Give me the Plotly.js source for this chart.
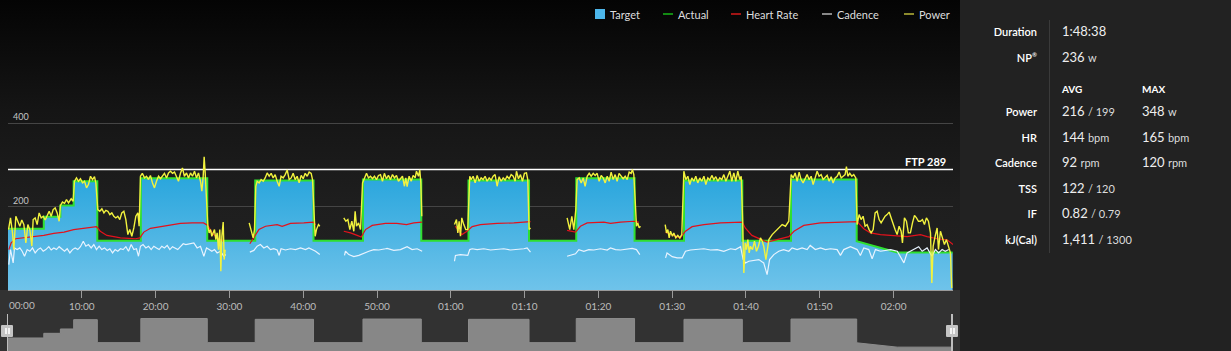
<!DOCTYPE html>
<html>
<head>
<meta charset="utf-8">
<script src="https://cdn.plot.ly/plotly-3.0.1.min.js"></script>
<style>
  html, body { margin:0; padding:0; background:#222; }
  body { width:1231px; height:351px; position:relative; overflow:hidden; font-family: Lato, "Open Sans", sans-serif; }
  #bgTop { position:absolute; left:0; top:0; width:960px; height:290px;
           background: linear-gradient(to bottom, #040404 0px, #151515 110px, #1e1e1e 200px, #222 290px); }
  #bgBottom { position:absolute; left:0; top:290px; width:960px; height:61px; background:#323232; }
  #chart { position:absolute; left:0; top:0; width:960px; height:351px; }
  .leg { position:absolute; top:14px; transform:translateY(-50%); font-size:11px; color:#ddd; white-space:nowrap; }
  .sw { position:absolute; }
  #panel { position:absolute; left:960px; top:0; width:271px; height:351px; background:#222; }
  #divider { position:absolute; left:89px; top:20px; width:1px; height:233px; background:#3a3a3a; }
  .lab { position:absolute; left:0; width:77px; text-align:right; font-size:11px; font-weight:600; color:#fff; transform:translateY(-50%); white-space:nowrap; }
  .val { position:absolute; font-size:13px; color:#eee; transform:translateY(-50%); white-space:nowrap; }
  .val small { font-size:11px; color:#ddd; }
  .hdr { position:absolute; font-size:10px; font-weight:bold; color:#fff; transform:translateY(-50%); }
  .hline { position:absolute; background:#bdbdbd; }
  .hbox { position:absolute; width:12px; height:12px; background:#c4c4c4; border-radius:1px; }
  .hbar { position:absolute; top:3px; width:1.5px; height:6px; background:#f4f4f4; }
</style>
</head>
<body>
<div id="bgTop"></div>
<div id="bgBottom"></div>
<div id="chart"></div>

<!-- legend -->
<div class="sw" style="left:595px;top:9px;width:10px;height:10px;background:#4db6ea;"></div>
<div class="leg" style="left:610px;">Target</div>
<div class="sw" style="left:663px;top:13px;width:10px;height:2px;background:#128a12;"></div>
<div class="leg" style="left:678px;">Actual</div>
<div class="sw" style="left:731px;top:13px;width:10px;height:2px;background:#a01414;"></div>
<div class="leg" style="left:746px;">Heart Rate</div>
<div class="sw" style="left:822px;top:13px;width:10px;height:2px;background:#888;"></div>
<div class="leg" style="left:837px;">Cadence</div>
<div class="sw" style="left:904px;top:13px;width:10px;height:2px;background:#8c8a2c;"></div>
<div class="leg" style="left:919px;">Power</div>

<!-- range handles -->
<div class="hline" style="left:6.5px;top:314px;width:1.5px;height:37px;"></div>
<div class="hbox" style="left:1px;top:325px;"><div class="hbar" style="left:4px;"></div><div class="hbar" style="left:7px;"></div></div>
<div class="hline" style="left:951px;top:314px;width:1.5px;height:37px;"></div>
<div class="hbox" style="left:946px;top:325px;"><div class="hbar" style="left:4px;"></div><div class="hbar" style="left:7px;"></div></div>

<!-- summary panel -->
<div id="panel">
  <div id="divider"></div>
  <div class="lab" style="top:31px;">Duration</div>
  <div class="val" style="left:102px;top:31px;">1:48:38</div>
  <div class="lab" style="top:57px;">NP<sup style="font-size:6px;">®</sup></div>
  <div class="val" style="left:102px;top:57px;">236 <small>w</small></div>
  <div class="hdr" style="left:102px;top:89px;">AVG</div>
  <div class="hdr" style="left:182px;top:89px;">MAX</div>
  <div class="lab" style="top:111px;">Power</div>
  <div class="val" style="left:102px;top:111px;">216 <small>/ 199</small></div>
  <div class="val" style="left:182px;top:111px;">348 <small>w</small></div>
  <div class="lab" style="top:137px;">HR</div>
  <div class="val" style="left:102px;top:137px;">144 <small>bpm</small></div>
  <div class="val" style="left:182px;top:137px;">165 <small>bpm</small></div>
  <div class="lab" style="top:162px;">Cadence</div>
  <div class="val" style="left:102px;top:162px;">92 <small>rpm</small></div>
  <div class="val" style="left:182px;top:162px;">120 <small>rpm</small></div>
  <div class="lab" style="top:188px;">TSS</div>
  <div class="val" style="left:102px;top:188px;">122 <small>/ 120</small></div>
  <div class="lab" style="top:213px;">IF</div>
  <div class="val" style="left:102px;top:213px;">0.82 <small>/ 0.79</small></div>
  <div class="lab" style="top:239px;">kJ(Cal)</div>
  <div class="val" style="left:102px;top:239px;">1,411 <small>/ 1300</small></div>
</div>

<script>
// ---------- data (time in minutes, values in W / bpm / rpm) ----------
const ftp = 289;

const targetTime = [0,4.85,4.85,7.1,7.1,8.9,8.9,12.1,12.1,18.0,18.0,27.0,27.0,33.5,33.5,41.4,41.4,48.1,48.1,56.0,56.0,62.4,62.4,70.6,70.6,77.0,77.0,84.9,84.9,91.6,91.6,99.5,99.5,106.1,106.1,115.0,115.0,120.5,128.0];
const targetWatts = [147,147,176,176,203,203,261,261,118,118,268,268,118,118,263,263,118,118,265,265,118,118,263,263,118,118,268,268,118,118,263,263,118,118,265,265,117,90,90];

const power = [
[0.07,145],[0.34,173],[0.61,137],[0.79,97],[1.06,177],[1.33,165],[1.6,153],[1.87,168],[2.15,157],[2.42,113],[2.69,157],[2.96,145],[3.23,105],[3.41,169],[3.68,173],[3.95,157],[4.22,185],[4.5,173],[4.77,177],[5.04,168],[5.3,177],[5.58,189],[5.85,177],[6.12,193],[6.39,197],[6.66,185],[6.93,165],[7.11,203],[7.38,211],[7.66,208],[7.93,217],[8.2,209],[8.56,219],[8.83,213],[9.01,261],[9.28,269],[9.55,261],[9.82,267],[10.1,257],[10.37,261],[10.64,245],[10.9,253],[11.18,273],[11.45,265],[11.72,272],[11.9,257],[12.17,193],[12.44,189],[12.72,195],[13.0,185],[13.26,191],[13.53,189],[13.8,181],[14.07,185],[14.34,177],[14.61,173],[14.88,177],[15.15,169],[15.42,185],[15.7,189],[15.97,169],[16.24,133],[16.5,145],[16.78,129],[17.05,149],[17.32,177],[17.6,185],[17.77,153],[17.95,273],[18.2,280],[18.5,269],[18.77,273],[19.04,265],[19.3,275],[19.58,257],[19.85,245],[20.12,261],[20.4,273],[20.66,267],[20.93,275],[21.2,280],[21.48,269],[21.75,281],[22.02,285],[22.29,280],[22.56,283],[22.83,273],[23.1,261],[23.37,280],[23.64,293],[23.9,273],[24.19,281],[24.46,269],[24.73,281],[25.0,273],[25.27,285],[25.54,269],[25.81,281],[26.08,261],[26.27,237],[26.45,273],[26.58,320],[26.72,281],[26.9,217],[27.08,153],[27.26,137],[27.44,145],[27.62,129],[27.8,137],[27.98,145],[28.16,121],[28.34,137],[28.52,97],[28.7,145],[28.84,45],[28.98,129],[29.16,163],[29.29,73],[29.43,97],
[31,null],
[32.68,161],[32.86,149],[33.04,137],[33.22,125],[33.4,145],[33.58,249],[33.76,261],[34.03,257],[34.3,265],[34.58,261],[34.85,269],[35.12,281],[35.39,273],[35.66,280],[35.93,269],[36.2,277],[36.47,261],[36.74,249],[37.0,273],[37.29,269],[37.56,277],[37.83,288],[38.1,265],[38.37,269],[38.64,280],[38.91,265],[39.18,273],[39.45,257],[39.73,275],[40.0,267],[40.27,280],[40.54,273],[40.81,283],[41.08,280],[41.26,265],[41.44,177],[41.62,129],[41.8,145],[42.07,157],[42.25,153],
[44,null],
[45.5,173],[45.78,165],[46.05,169],[46.32,145],[46.59,165],[46.86,141],[47.04,189],[47.22,153],[47.5,161],[47.77,145],[48.04,257],[48.31,269],[48.58,280],[48.85,269],[49.12,273],[49.39,267],[49.66,273],[49.93,265],[50.2,275],[50.47,277],[50.74,261],[51.0,280],[51.28,267],[51.55,275],[51.83,265],[52.1,277],[52.37,269],[52.64,275],[52.91,261],[53.18,267],[53.45,273],[53.72,249],[53.9,269],[54.08,248],[54.35,273],[54.63,261],[54.9,275],[55.17,269],[55.35,285],[55.62,273],[55.8,288],[55.94,257],[56.07,177],
[58,null],
[60.5,157],[60.77,169],[60.95,137],[61.13,165],[61.31,129],[61.49,173],[61.76,157],[62.03,145],[62.3,145],[62.57,273],[62.75,265],[63.03,273],[63.3,257],[63.57,275],[63.84,261],[64.11,269],[64.38,265],[64.65,273],[64.92,261],[65.2,269],[65.47,264],[65.74,273],[66.0,277],[66.28,249],[66.55,272],[66.82,261],[67.1,269],[67.36,264],[67.63,273],[67.9,267],[68.18,277],[68.45,273],[68.72,261],[68.9,285],[69.17,267],[69.44,277],[69.71,261],[69.98,280],[70.25,281],[70.43,265],[70.61,145],[70.8,149],
[73,null],
[75.76,173],[75.94,157],[76.12,145],[76.4,177],[76.67,145],[76.94,193],[77.12,265],[77.4,269],[77.67,257],[77.94,269],[78.2,249],[78.48,273],[78.75,280],[79.02,273],[79.3,280],[79.56,275],[79.83,280],[80.1,261],[80.38,275],[80.65,269],[80.92,257],[81.19,273],[81.46,261],[81.73,283],[82.0,265],[82.27,277],[82.54,261],[82.8,280],[83.08,273],[83.36,267],[83.63,273],[83.9,265],[84.17,283],[84.44,280],[84.62,289],[84.8,277],[84.98,217],[85.16,153],[85.34,161],[85.52,149],[85.7,153],
[87,null],
[89.05,157],[89.23,137],[89.41,145],[89.59,125],[89.77,141],[90.04,129],[90.22,137],[90.49,125],[90.76,131],[91.03,125],[91.3,133],[91.58,285],[91.85,265],[92.12,273],[92.39,253],[92.66,269],[92.93,261],[93.2,273],[93.47,257],[93.74,269],[94.0,261],[94.3,273],[94.56,253],[94.83,269],[95.1,264],[95.37,275],[95.64,265],[95.91,272],[96.18,261],[96.45,269],[96.72,265],[97.0,277],[97.27,261],[97.54,273],[97.81,285],[98.08,261],[98.35,281],[98.62,261],[98.89,285],[99.16,265],[99.35,273],[99.53,177],[99.71,41],[99.9,113],[100.07,97],[100.25,121],[100.43,89],[100.6,105],[100.88,97],[101.15,117],[101.42,93],[101.69,105],[101.96,125],[102.2,117],[102.4,105],[102.7,73],[103.1,121],[103.55,133],[104.0,141],[104.5,149],[104.9,157],[105.35,153],[105.8,165],
[106.12,277],[106.39,269],[106.66,281],[106.93,261],[107.2,283],[107.47,265],[107.74,257],[108.0,269],[108.28,277],[108.55,265],[108.83,273],[109.1,253],[109.37,269],[109.64,285],[109.91,273],[110.18,277],[110.45,265],[110.72,269],[111.0,275],[111.27,261],[111.54,272],[111.8,257],[112.08,269],[112.35,273],[112.62,283],[112.9,269],[113.16,273],[113.43,277],[113.61,296],[113.8,273],[114.06,280],[114.34,273],[114.6,277],[114.88,269],[115.06,157],[115.33,181],[115.6,169],[115.87,177],[116.14,153],[116.41,157],[116.68,145],[116.96,137],[117.23,145],[117.5,185],[117.77,189],[118.04,169],[118.31,161],[118.58,169],[118.85,177],[119.12,181],[119.4,187],[119.67,173],[119.94,157],[120.2,145],[120.48,133],[120.75,153],[121.02,141],[121.2,113],[121.47,173],[121.74,165],[122.0,137],[122.28,137],[122.56,161],[122.83,179],[123.1,173],[123.37,165],[123.64,165],[123.91,169],[124.18,157],[124.45,173],[124.72,165],[125.0,137],[125.18,17],[125.36,105],[125.63,129],[125.9,149],[126.08,97],[126.35,141],[126.62,125],[126.89,109],[127.16,121],[127.43,105],[127.7,89],[127.88,5]
];

const heartRate = [
[0.11,97],[0.43,113],[1.0,123],[2.15,125],[3.5,129],[4.85,131],[6.2,136],[7.6,139],[8.9,145],[10.05,148],[11.18,151],[12.0,152],[12.5,141],[13.4,131],[14.34,128],[15.24,125],[16.37,124],[17.3,123],[17.86,125],[18.4,139],[19.3,148],[20.66,152],[22.0,155],[23.37,160],[24.95,161],[26.5,161],[27.08,155],[27.66,137],[28.34,125],[29.25,117],
[31,null],
[32.77,111],[33.31,125],[34.0,145],[34.9,153],[36.47,157],[37.15,153],[38.28,160],[40.09,161],[41.35,163],[41.7,157],
[44,null],
[45.5,141],[46.41,137],[47.31,131],[47.86,127],[48.44,145],[49.35,155],[51.15,160],[52.7,160],[54.0,157],[54.99,161],[56.1,163],
[58,null],
[60.6,153],[61.5,133],[62.2,141],[62.9,152],[64.0,157],[66.28,160],[68.54,161],[70.8,164],
[73,null],
[75.76,143],[76.4,141],[76.9,139],[77.57,153],[78.48,161],[80.74,163],[81.64,160],[83.0,163],[84.8,165],[85.48,163],
[87,null],
[89.1,139],[90.0,133],[91.1,125],[91.8,141],[92.7,152],[94.3,157],[96.55,161],[99.5,163],[99.9,149],[100.8,131],[101.96,121],[102.86,115],[104.2,121],[105.8,128],[106.5,141],[107.83,155],[110.1,161],[112.8,163],[114.15,165],[115.06,164],[115.96,147],[116.86,137],[118.22,133],[120.0,131],[121.83,128],[123.64,133],[124.54,128],[125.9,123],[127.3,120],[128.07,109]
];

const cadence = [
[0.11,61],[0.34,97],[0.7,65],[0.88,101],[1.24,97],[1.6,101],[1.92,93],[2.24,81],[2.6,97],[2.96,93],[3.32,101],[3.68,89],[4.04,97],[4.4,101],[4.77,93],[5.13,97],[5.53,104],[5.85,96],[6.21,101],[6.57,97],[6.93,104],[7.3,99],[7.66,93],[8.02,99],[8.38,89],[8.74,97],[9.1,101],[9.46,97],[9.82,104],[10.2,117],[10.55,105],[10.9,109],[11.27,101],[11.63,109],[11.99,97],[12.35,105],[12.7,97],[13.08,101],[13.44,95],[13.8,99],[14.16,89],[14.52,97],[14.88,93],[15.24,99],[15.6,97],[15.97,104],[16.33,93],[16.69,109],[17.05,97],[17.41,99],[17.68,81],[17.95,105],[18.3,109],[18.68,101],[19.04,105],[19.4,97],[19.76,105],[20.12,101],[20.48,97],[20.84,105],[21.2,101],[21.57,107],[21.93,97],[22.29,104],[22.65,101],[23.0,97],[23.37,104],[23.74,111],[24.1,109],[24.55,111],[25.18,113],[25.63,101],[26.08,105],[26.54,81],[26.9,101],[27.26,97],[27.62,93],[27.98,97],[28.34,89],[28.8,93],[29.25,81],[29.52,85],
[31,null],
[32.77,91],[33.31,95],[33.76,105],[34.2,109],[34.67,101],[35.12,105],[35.57,97],[36.0,99],[36.47,96],[36.74,83],[37.0,99],[37.6,96],[38.28,99],[38.96,97],[39.64,101],[40.31,97],[40.77,101],[41.2,97],[41.67,93],[42.25,85],
[44,null],
[45.6,83],[45.73,93],[46.18,85],[46.86,80],[47.54,83],[48.22,89],[48.9,93],[49.57,97],[50.25,96],[51.15,99],[51.37,100],[52.28,95],[53.18,97],[54.08,104],[54.76,97],[55.44,99],[56.12,93],
[58,null],
[60.5,69],[60.63,83],[61.31,85],[61.99,84],[62.3,83],[62.57,97],[62.9,99],[63.57,97],[64.47,99],[65.38,96],[66.28,97],[67.18,99],[68.09,96],[68.99,97],[69.9,99],[70.34,101],[70.8,91],
[73,null],
[75.76,81],[76.2,83],[76.9,87],[77.35,97],[78.03,93],[78.7,97],[79.38,96],[80.29,99],[81.19,96],[81.64,101],[82.32,97],[83.0,96],[83.9,99],[84.58,100],[85.16,97],[85.61,85],
[87,null],
[89.1,77],[89.3,89],[90.0,80],[90.67,77],[91.35,77],[91.8,93],[92.48,96],[93.38,97],[94.29,99],[95.19,96],[96.1,97],[97.0,93],[97.9,99],[98.58,97],[99.26,104],[99.62,73],[99.93,65],[100.38,69],[101.06,71],[101.74,73],[102.4,65],[102.86,37],[103.2,73],[103.77,85],[104.44,93],[105.1,97],[105.8,93],[106.25,101],[106.93,97],[107.6,101],[108.28,97],[108.7,107],[109.4,97],[110.1,101],[110.77,97],[111.45,99],[112.35,97],[112.8,83],[113.25,97],[114.15,104],[115.06,97],[115.5,83],[115.96,101],[116.64,97],[117.09,75],[117.54,97],[118.22,93],[118.9,95],[119.6,97],[120.5,93],[121.4,65],[121.83,89],[122.74,97],[123.4,104],[123.87,93],[124.54,101],[125.2,81],[125.67,97],[126.1,89],[126.58,97],[127.0,93],[127.48,97]
];

const xTickVals = [0,10,20,30,40,50,60,70,80,90,100,110,120];
const xTickText = ["00:00","10:00","20:00","30:00","40:00","50:00","01:00","01:10","01:20","01:30","01:40","01:50","02:00"];
const yTickVals = [200,400];

// ---------- traces ----------
const col = (arr, i) => arr.map(p => p[i]);

const traces = [
  { // target area
    x: targetTime, y: targetWatts, type:'scatter', mode:'lines', fill:'tozeroy',
    line:{color:'#2fe02f', width:2}, fillcolor:'#45b2e4',
    fillgradient:{type:'vertical', start:0, stop:270, colorscale:[[0,'#6fc3ea'],[1,'#2aa6dd']]},
    hoverinfo:'skip', xaxis:'x', yaxis:'y'
  },
  { x: col(cadence,0), y: col(cadence,1), type:'scatter', mode:'lines',
    line:{color:'#e8f3ff', width:1.2}, hoverinfo:'skip', xaxis:'x', yaxis:'y' },
  { x: col(heartRate,0), y: col(heartRate,1), type:'scatter', mode:'lines',
    line:{color:'#e3121c', width:1.2}, hoverinfo:'skip', xaxis:'x', yaxis:'y' },
  { x: col(power,0), y: col(power,1), type:'scatter', mode:'lines',
    line:{color:'#f2f23e', width:1.4}, hoverinfo:'skip', xaxis:'x', yaxis:'y' },
  { // overview strip
    x: targetTime, y: targetWatts, type:'scatter', mode:'lines', fill:'tozeroy',
    line:{color:'#8c8c8c', width:1}, fillcolor:'#878787',
    hoverinfo:'skip', xaxis:'x2', yaxis:'y2'
  }
];

const layout = {
  width:960, height:351,
  margin:{l:8, r:7, t:0, b:0},
  paper_bgcolor:'rgba(0,0,0,0)', plot_bgcolor:'rgba(0,0,0,0)',
  showlegend:false,
  font:{family:'Lato, "Open Sans", sans-serif', color:'#bbb'},
  xaxis:{
    range:[0,128.05], domain:[0,1], anchor:'y',
    tickvals:xTickVals, ticktext:xTickText.map((t,i) => i === 0 ? '' : t),
    ticks:'outside', ticklen:7, tickcolor:'#9a9a9a', tickwidth:1,
    showline:true, linecolor:'#9a9a9a', linewidth:1,
    showgrid:false, zeroline:false,
    tickfont:{size:10, color:'#bdbdbd'}, fixedrange:true
  },
  yaxis:{
    range:[0,624], domain:[1-290/351, 1-30/351], anchor:'x',
    tickvals:yTickVals, ticktext:yTickVals.map(String),
    ticklabelposition:'inside top', ticklabelstandoff:2,
    showgrid:true, gridcolor:'#454545', gridwidth:1,
    zeroline:false, showline:false, ticks:'',
    tickfont:{size:9, color:'#c4c4c4'}, fixedrange:true
  },
  xaxis2:{
    range:[0,128.05], domain:[0,1], anchor:'y2', matches:'x',
    showticklabels:false, ticks:'', showline:false, showgrid:false, zeroline:false, fixedrange:true
  },
  yaxis2:{
    range:[66,290], domain:[0, 1-315/351], anchor:'x2',
    showticklabels:false, ticks:'', showline:false, showgrid:false, zeroline:false, fixedrange:true
  },
  shapes:[
    {type:'line', xref:'paper', yref:'y', x0:0, x1:1, y0:ftp, y1:ftp,
     line:{color:'#ffffff', width:1.5}, layer:'below'}
  ],
  annotations:[
    {xref:'paper', yref:'y', x:1, y:ftp, xanchor:'right', yanchor:'bottom', xshift:-5, yshift:0,
     text:'<b>FTP ' + ftp + '</b>', showarrow:false,
     font:{size:11, color:'#ffffff', family:'Lato, "Open Sans", sans-serif'}},
    {xref:'x', yref:'paper', x:xTickVals[0], y:1-304.5/351, xanchor:'left', yanchor:'middle', xshift:-1,
     text:xTickText[0], showarrow:false,
     font:{size:10, color:'#bdbdbd', family:'Lato, "Open Sans", sans-serif'}}
  ]
};

Plotly.newPlot('chart', traces, layout, {staticPlot:true, displayModeBar:false});
</script>
</body>
</html>
